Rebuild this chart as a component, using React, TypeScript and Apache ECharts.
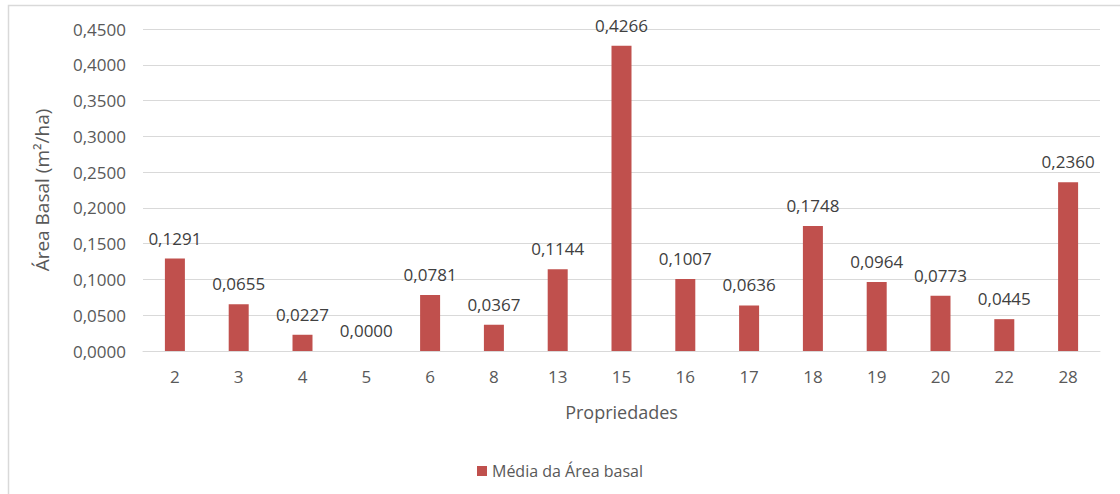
import React, { useEffect, useRef } from "react";
import * as echarts from "echarts";

const categories = ["2", "3", "4", "5", "6", "8", "13", "15", "16", "17", "18", "19", "20", "22", "28"];
const values = [0.1291, 0.0655, 0.0227, 0.0, 0.0781, 0.0367, 0.1144, 0.4266, 0.1007, 0.0636, 0.1748, 0.0964, 0.0773, 0.0445, 0.236];
const seriesName = "Média da Área basal";
const yAxisTitle = "Área Basal (m²/ha)";
const xAxisTitle = "Propriedades";

const fmt = (v: number) => v.toFixed(4).replace(".", ",");
const FONT = "'Open Sans', 'Noto Sans', sans-serif";

export default function App() {
  const ref = useRef<HTMLDivElement>(null);
  useEffect(() => {
    if (!ref.current) return;
    const chart = echarts.init(ref.current, null, { renderer: "svg" });
    chart.setOption({
      animation: false,
      backgroundColor: "#ffffff",
      textStyle: { fontFamily: FONT },
      graphic: [
        {
          type: "rect",
          shape: { x: 8.5, y: 5.5, width: 1200, height: 600 },
          style: { fill: "none", stroke: "#d9d9d9", lineWidth: 1.5 },
          silent: true,
        },
      ],
      grid: { left: 143, right: 20, top: 29, bottom: 143 },
      legend: {
        top: 458,
        left: "center",
        data: [seriesName],
        icon: "rect",
        itemWidth: 10,
        itemHeight: 10,
        itemGap: 6,
        textStyle: { color: "#595959", fontSize: 16, fontFamily: FONT },
      },
      xAxis: {
        type: "category",
        data: categories,
        name: xAxisTitle,
        nameLocation: "middle",
        nameGap: 52,
        nameTextStyle: { color: "#595959", fontSize: 18, fontFamily: FONT },
        axisLine: { show: true, lineStyle: { color: "#d9d9d9" } },
        axisTick: { show: false },
        axisLabel: { color: "#595959", fontSize: 17, margin: 17, fontFamily: FONT },
      },
      yAxis: {
        type: "value",
        min: 0,
        max: 0.45,
        interval: 0.05,
        name: yAxisTitle,
        nameLocation: "middle",
        nameGap: 92,
        nameTextStyle: { color: "#595959", fontSize: 19, fontFamily: FONT },
        axisLine: { show: false },
        axisTick: { show: false },
        splitLine: { lineStyle: { color: "#d9d9d9" } },
        axisLabel: {
          color: "#595959",
          fontSize: 17,
          margin: 17,
          fontFamily: FONT,
          formatter: (v: number) => fmt(v),
        },
      },
      series: [
        {
          name: seriesName,
          type: "bar",
          data: values,
          barWidth: 20,
          itemStyle: { color: "#C0504D" },
          label: {
            show: true,
            position: "top",
            distance: 12,
            color: "#404040",
            fontSize: 17,
            fontFamily: FONT,
            formatter: (p: any) => fmt(p.value),
          },
        },
      ],
    });
    return () => chart.dispose();
  }, []);
  return <div ref={ref} style={{ position: "fixed", left: 0, top: 0, width: 1120, height: 494 }} />;
}
